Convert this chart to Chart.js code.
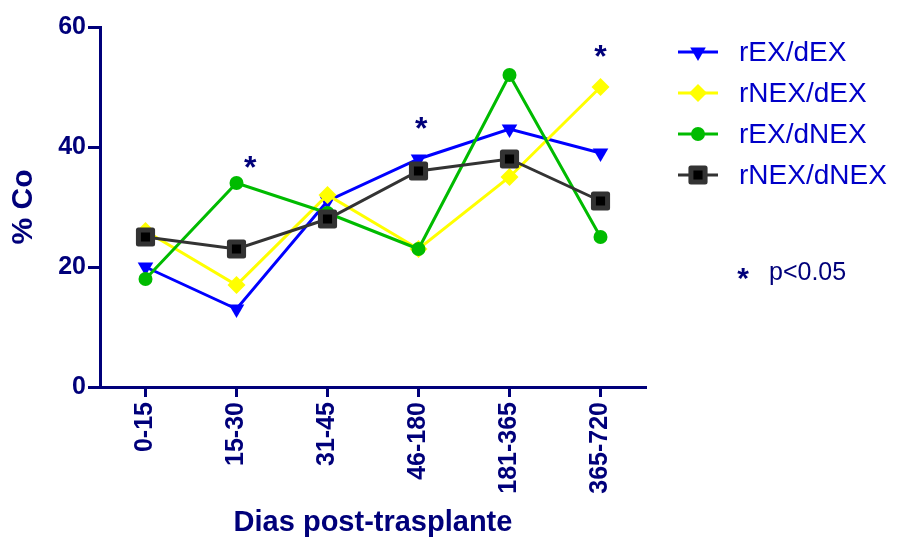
<!DOCTYPE html>
<html>
<head>
<meta charset="utf-8">
<script src="https://cdn.jsdelivr.net/npm/chart.js@4"></script>
<style>
  html, body { margin: 0; padding: 0; background: #fff; }
  #wrap { width: 898px; height: 537px; }
</style>
</head>
<body>
<div id="wrap"><canvas id="chart" width="898" height="537"></canvas></div>
<script>
// Data
const categories = ["0-15", "15-30", "31-45", "46-180", "181-365", "365-720"];
const rexDex = [20, 13, 31, 38, 43, 39];
const rnexDex = [26, 17, 32, 23, 35, 50];
const rexDnex = [18, 34, 29, 23, 52, 25];
const rnexDnex = [25, 23, 28, 36, 38, 31];
const yTicks = [0, 20, 40, 60];

// significance marks (category index, % Co level)
const sigX = [1.15, 3.03, 5.0];
const sigY = [37.5, 44, 56];

const navy = "#00007a";
const font = "Arial, 'Liberation Sans'";

// custom legend + asterisks
const extrasPlugin = {
  id: "extras",
  beforeDatasetsDraw(chart) {
    chart.ctx.lineJoin = "round";
  },
  afterDatasetsDraw(chart) {
    const ctx = chart.ctx;
    const xs = chart.scales.x;
    const ys = chart.scales.y;
    const step = xs.getPixelForValue(1) - xs.getPixelForValue(0);

    ctx.save();
    ctx.fillStyle = navy;
    ctx.font = "bold 32px " + font;
    ctx.textAlign = "center";
    ctx.textBaseline = "middle";
    sigX.forEach((x, i) => {
      ctx.fillText("*", xs.getPixelForValue(0) + x * step, ys.getPixelForValue(sigY[i]) + 7);
    });

    // legend
    const ds = chart.data.datasets;
    ds.forEach((d, i) => {
      const y = 52 + i * 41;
      ctx.strokeStyle = d.borderColor;
      ctx.lineWidth = 3;
      ctx.beginPath();
      ctx.moveTo(678, y);
      ctx.lineTo(718, y);
      ctx.stroke();
      ctx.fillStyle = d.backgroundColor;
      ctx.strokeStyle = d.pointBorderColor || d.borderColor;
      ctx.lineWidth = d.pointBorderWidth;
      ctx.lineJoin = "round";
      Chart.helpers.drawPoint(ctx, {
        pointStyle: d.pointStyle,
        rotation: d.rotation || 0,
        radius: d.pointRadius,
        borderWidth: d.pointBorderWidth
      }, 698, y);
      ctx.fillStyle = "#0000c8";
      ctx.font = "28px " + font;
      ctx.textAlign = "left";
      ctx.fillText(d.label, 739, y + 1);
    });

    ctx.fillStyle = navy;
    ctx.font = "bold 30px " + font;
    ctx.textAlign = "center";
    ctx.fillText("*", 743, 280);
    ctx.textAlign = "left";
    ctx.font = "25px " + font;
    ctx.fillText("p<0.05", 769, 273);
    ctx.restore();
  }
};

const ctx = document.getElementById("chart").getContext("2d");
new Chart(ctx, {
  type: "line",
  data: {
    labels: categories,
    datasets: [
      {
        label: "rEX/dEX",
        data: rexDex,
        borderColor: "#0000ff",
        backgroundColor: "#0000ff",
        borderWidth: 3,
        pointStyle: "triangle",
        rotation: 180,
        pointRadius: 9,
        pointBorderWidth: 0,
        order: 3
      },
      {
        label: "rNEX/dEX",
        data: rnexDex,
        borderColor: "#ffff00",
        backgroundColor: "#ffff00",
        borderWidth: 3,
        pointStyle: "rectRot",
        pointRadius: 9,
        pointBorderWidth: 0,
        order: 2
      },
      {
        label: "rEX/dNEX",
        data: rexDnex,
        borderColor: "#00bb00",
        backgroundColor: "#00bb00",
        borderWidth: 3,
        pointStyle: "circle",
        pointRadius: 7,
        pointBorderWidth: 0,
        order: 1
      },
      {
        label: "rNEX/dNEX",
        data: rnexDnex,
        borderColor: "#333333",
        backgroundColor: "#000000",
        borderWidth: 3,
        pointStyle: "rect",
        pointRadius: 10,
        pointBorderWidth: 5,
        pointBorderColor: "#333333",
        order: 0
      }
    ]
  },
  options: {
    responsive: false,
    animation: false,
    layout: { padding: { top: 27, right: 252, left: 0, bottom: 0 } },
    plugins: {
      legend: { display: false },
      tooltip: { enabled: false }
    },
    scales: {
      x: {
        offset: true,
        grid: {
          display: true,
          drawOnChartArea: false,
          drawTicks: true,
          tickLength: 10,
          tickWidth: 3,
          color: navy,
          offset: false
        },
        border: { color: navy, width: 3 },
        ticks: {
          color: navy,
          font: { family: font, size: 25, weight: "bold" },
          minRotation: 90,
          maxRotation: 90,
          padding: 5
        },
        title: {
          display: true,
          text: "Dias post-trasplante",
          color: navy,
          font: { family: font, size: 29, weight: "bold", lineHeight: 1 },
          padding: { top: 0, bottom: 0 }
        },
        afterFit(scale) { scale.height = 150; }
      },
      y: {
        min: 0,
        max: 60,
        afterBuildTicks(scale) { scale.ticks = yTicks.map(v => ({ value: v })); },
        grid: {
          display: true,
          drawOnChartArea: false,
          drawTicks: true,
          tickLength: 12,
          tickWidth: 3,
          color: navy
        },
        border: { color: navy, width: 3 },
        ticks: {
          color: navy,
          font: { family: font, size: 25, weight: "bold" },
          padding: 2
        },
        title: {
          display: true,
          text: "% Co",
          color: navy,
          font: { family: font, size: 30, weight: "bold", lineHeight: 1 },
          padding: { top: 9, bottom: 0 }
        },
        afterFit(scale) { scale.width = 100; }
      }
    }
  },
  plugins: [extrasPlugin]
});
</script>
</body>
</html>
